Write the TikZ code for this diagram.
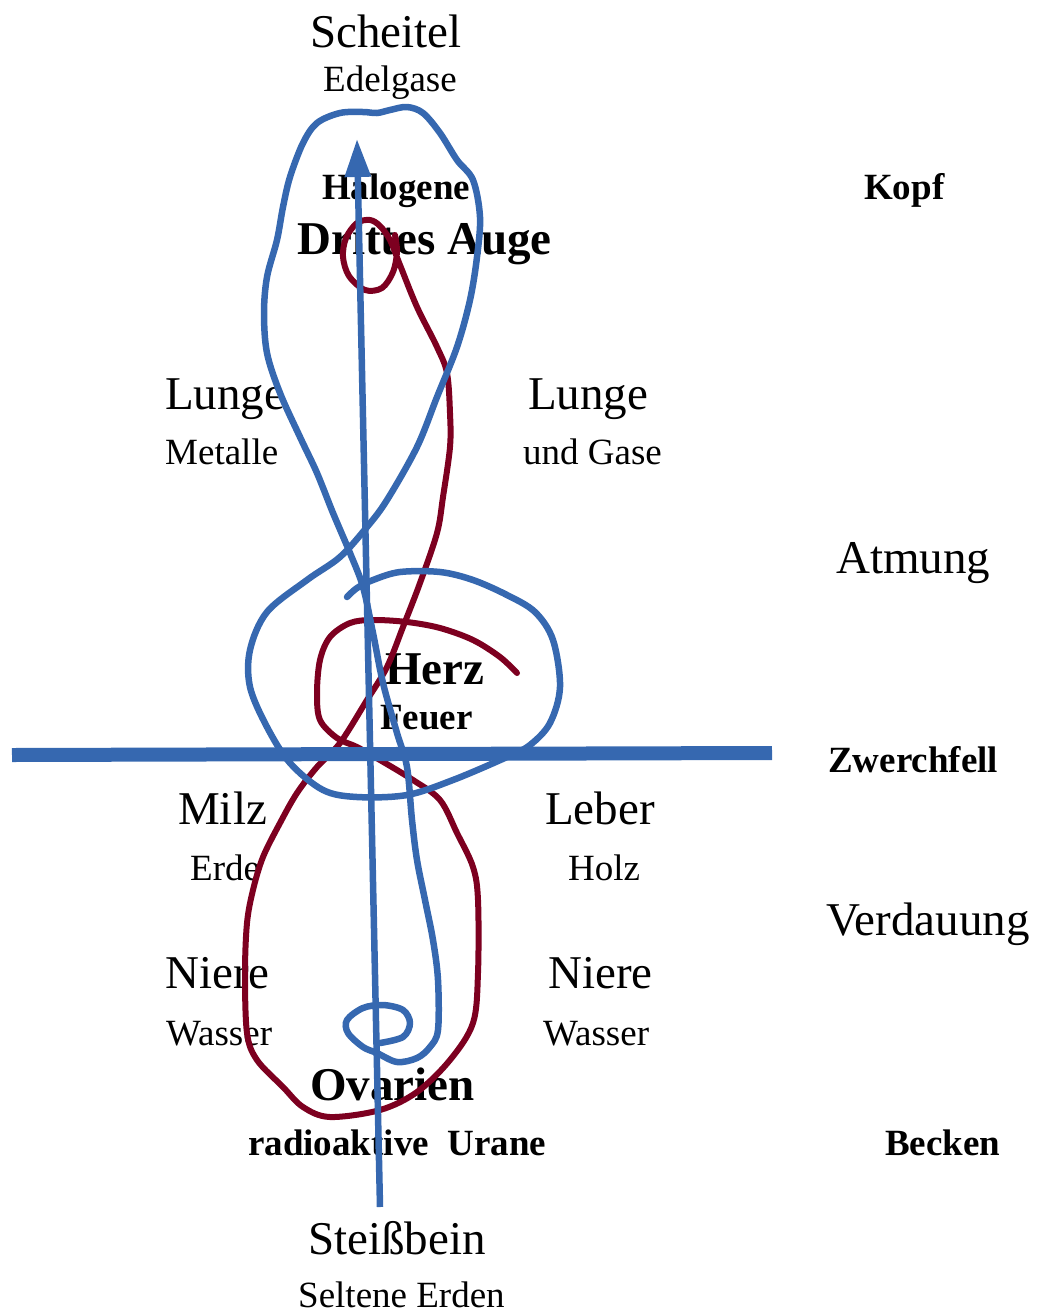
\documentclass[tikz,border=0pt]{standalone}
\usepackage{fontspec}
\setmainfont{Liberation Serif}
\usetikzlibrary{arrows.meta}
\definecolor{cblue}{RGB}{54,104,176}
\definecolor{cred}{RGB}{125,0,32}
\tikzset{
  big/.style={inner sep=0pt, anchor=base west, font=\fontsize{47}{56}\selectfont},
  small/.style={inner sep=0pt, anchor=base west, font=\fontsize{37}{44}\selectfont},
  bigb/.style={big, font=\fontsize{47}{56}\selectfont\bfseries},
  smallb/.style={small, font=\fontsize{37}{44}\selectfont\bfseries},
  bluecurve/.style={draw=cblue, line width=6.5pt, line cap=round, line join=round},
  redcurve/.style={draw=cred, line width=6pt, line cap=round, line join=round},
}
\begin{document}
\begin{tikzpicture}[x=1pt,y=-1pt]
\useasboundingbox (0,0) rectangle (1045,1315);

% texts (drawn first, the strokes lie over them)
\node[big] (scheitel) at (310,47) {Scheitel};
\node[small] (edelgase) at (323,91) {Edelgase};
\node[smallb] (halogene) at (322,199) {Halogene};
\node[bigb] (auge) at (297,254) {Drittes Auge};
\node[smallb] (kopf) at (864,199) {Kopf};
\node[big] (lungel) at (165,409) {Lunge};
\node[small] (metalle) at (165,464) {Metalle};
\node[big] (lunger) at (528,409) {Lunge};
\node[small] (gase) at (523,464) {und Gase};
\node[big] (atmung) at (836,573) {Atmung};
\node[bigb] (herz) at (385,684) {Herz};
\node[smallb] (feuer) at (380,729) {Feuer};
\node[smallb] (zwerch) at (828,772) {Zwerchfell};
\node[big] (milz) at (178,824) {Milz};
\node[small] (erde) at (190,880) {Erde};
\node[big] (leber) at (545,824) {Leber};
\node[small] (holz) at (568,880) {Holz};
\node[big] (verdauung) at (826,935) {Verdauung};
\node[big] (nierel) at (165,988) {Niere};
\node[small] (wasserl) at (166,1045) {Wasser};
\node[big] (nierer) at (548,988) {Niere};
\node[small] (wasserr) at (543,1045) {Wasser};
\node[bigb] (ovarien) at (310,1100) {Ovarien};
\node[smallb] (urane) at (248,1155) {radioaktive\ \ Urane};
\node[smallb] (becken) at (885,1155) {Becken};
\node[big] (steiss) at (308,1254) {Steißbein};
\node[small] (selten) at (298,1307) {Seltene Erden};

% red freehand curve
\draw[redcurve] plot[smooth, tension=0.55] coordinates {
(517,673) (500,657) (473,640) (440,628) (407,622) (373,620) (350,623) (330,637) (320,660) (317,693) (320,720) (337,738) (357,747) (380,760) (413,780) (440,800) (457,833) (473,867) (478,900) (478,973) (473,1023) (450,1060) (417,1092) (380,1110) (330,1117) (303,1107) (283,1087) (257,1060) (247,1033) (245,973) (247,923) (253,890) (263,857) (280,823) (297,793) (317,767) (340,743) (367,700) (387,667) (403,627) (420,583) (437,533) (443,497) (450,447) (450,413) (447,373) (437,347) (417,307) (400,265) (390,240) (380,226) (370,220) (357,223) (346,238) (343,257) (349,276) (365,290) (382,288) (393,272) (397,252) (395,235)};

% blue freehand curve
\draw[bluecurve] plot[smooth, tension=0.55] coordinates {
(347,597) (357,588) (373,580) (400,572) (440,572) (473,580) (507,595) (535,612) (553,640) (560,687) (550,723) (530,745) (507,757) (453,780) (407,795) (357,797) (323,790) (290,763) (267,727) (250,687) (250,650) (267,612) (307,580) (340,557) (367,527) (387,500) (417,447) (437,397) (457,347) (470,300) (477,257) (480,217) (473,180) (457,160) (440,133) (423,113) (407,107) (390,110) (377,113) (363,112) (340,113) (317,123) (303,143) (290,177) (283,207) (277,240) (267,277) (264,313) (267,353) (280,393) (300,437) (317,473) (333,513) (350,553) (363,587) (373,633) (383,683) (397,733) (407,767) (412,820) (417,860) (425,900) (433,940) (438,980) (438,1030) (430,1047) (417,1058) (397,1062) (377,1053) (363,1047) (348,1033) (347,1020) (363,1008) (383,1005) (403,1010) (410,1023) (403,1037) (380,1043)};

% diaphragm line
\coordinate (zl) at (12,755);
\coordinate (zr) at (772,753);
\draw[cblue, line width=14pt] (zl) -- (zr);

% central arrow
\coordinate (abot) at (380,1207);
\coordinate (atop) at (357,139);
\draw[cblue, line width=6.5pt, -{Triangle[length=38pt,width=25pt]}] (abot) -- (atop);
\end{tikzpicture}
\end{document}
